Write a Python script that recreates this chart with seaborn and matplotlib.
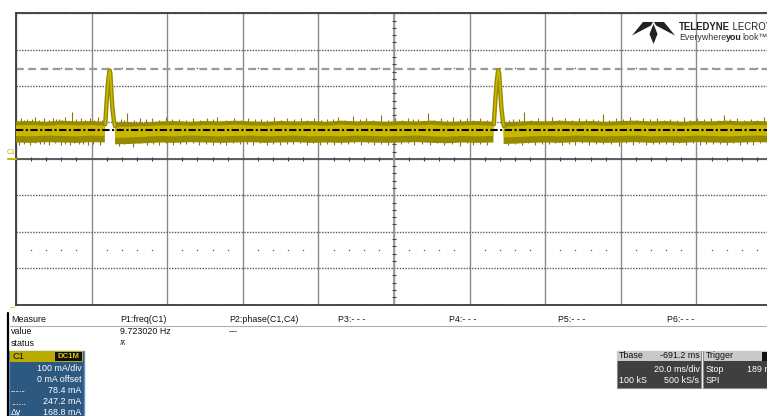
import numpy as np
import pandas as pd
import seaborn as sns
import matplotlib
matplotlib.use("Agg")
import matplotlib.pyplot as plt
from matplotlib.patches import Rectangle, Polygon

# ---------------- data (time in ms, current in mA) ----------------
nan = float("nan")
band_t = [0, 4, 8, 12, 16, 20, 23.5, 24.8, 26.2, 30, 34, 38, 42, 46, 50, 54, 58, 62, 66, 70,
          74, 78, 82, 86, 90, 94, 98, 102, 106, 110, 114, 118, 122, 126.3, 127.6, 129.0,
          132, 136, 140, 144, 148, 152, 156, 160, 164, 168, 172, 176, 180, 184, 188, 192, 196, 200]
outer_hi = [103, 104, 102, 105, 103, 104, 102, nan, 100, 101, 99, 103, 104, 102, 104, 103, 105, 103, 102, 104,
            103, 104, 102, 105, 103, 104, 102, 104, 103, 105, 102, 103, 104, 102, nan, 100,
            102, 104, 103, 105, 103, 104, 102, 104, 105, 103, 104, 102, 104, 103, 105, 103, 104, 103]
outer_lo = [45, 44, 46, 45, 44, 46, 45, nan, 40, 41, 43, 45, 44, 46, 45, 44, 45, 46, 44, 45,
            46, 44, 45, 44, 46, 45, 44, 45, 46, 44, 43, 45, 44, 45, nan, 41,
            42, 44, 45, 44, 46, 45, 44, 45, 46, 44, 45, 44, 46, 45, 44, 45, 46, 45]
core_hi = [92, 93, 91, 94, 92, 93, 91, nan, 88, 89, 90, 92, 93, 91, 93, 92, 94, 92, 91, 93,
           92, 93, 91, 94, 92, 93, 91, 93, 92, 94, 91, 92, 93, 91, nan, 88,
           90, 93, 92, 94, 92, 93, 91, 93, 94, 92, 93, 91, 93, 92, 94, 92, 93, 92]
core_lo = [63, 62, 64, 63, 62, 64, 63, nan, 58, 59, 61, 63, 62, 64, 63, 62, 63, 64, 62, 63,
           64, 62, 63, 62, 64, 63, 62, 63, 64, 62, 61, 63, 62, 63, nan, 59,
           60, 62, 63, 62, 64, 63, 62, 63, 64, 62, 63, 62, 64, 63, 62, 63, 64, 63]

up_t = [1.2, 2.9, 5.1, 7.4, 9.8, 11.3, 13.0, 14.8, 17.2, 19.5, 21.6, 27.9, 29.4, 32.8, 36.1,
        39.7, 43.2, 46.9, 50.5, 53.3, 57.8, 61.4, 64.9, 68.2, 71.7, 75.3, 78.8, 82.4, 85.1,
        89.2, 92.6, 96.5, 100.3, 103.8, 106.4, 108.9, 112.5, 115.7, 119.2, 122.8, 131.5,
        134.4, 138.2, 141.9, 145.3, 149.0, 152.6, 155.3, 158.8, 162.4, 166.0, 169.5, 173.1,
        176.6, 180.2, 183.9, 187.3, 190.8, 194.4, 197.9]
up_top = [112, 110, 114, 111, 113, 110, 115, 130, 112, 111, 114, 110, 126, 112, 111,
          114, 110, 113, 112, 115, 111, 113, 110, 114, 112, 111, 113, 110, 114,
          117, 112, 121, 111, 113, 110, 126, 112, 114, 111, 113, 110,
          130, 112, 114, 111, 113, 110, 123, 112, 114, 111, 113, 110,
          114, 112, 111, 121, 113, 110, 114]
up2_t = [2.0, 4.2, 6.2, 8.6, 10.5, 12.1, 15.9, 18.3, 20.6, 22.7, 28.6, 31.1, 34.4, 37.9, 41.4,
         45.0, 48.7, 52.0, 55.5, 59.6, 63.2, 66.5, 70.0, 73.5, 77.1, 80.6, 83.8, 87.1, 90.9,
         94.5, 98.4, 102.1, 105.1, 110.7, 114.1, 117.4, 121.0, 124.5, 130.4, 133.0, 136.3,
         140.0, 143.6, 147.1, 150.8, 154.0, 157.0, 160.6, 164.2, 167.8, 171.3, 174.9, 178.4,
         182.0, 185.6, 189.0, 192.6, 196.1, 199.2]
up2_top = [107, 109, 106, 108, 110, 107, 109, 106, 108, 107, 106, 108, 109, 107, 110,
           106, 108, 109, 107, 106, 110, 108, 107, 109, 106, 108, 110, 107, 109,
           106, 108, 107, 110, 108, 106, 109, 107, 108, 106, 109, 107,
           110, 108, 106, 109, 107, 108, 110, 106, 109, 107, 108, 106,
           109, 107, 110, 108, 106, 109]
dn_t = [0.8, 3.6, 6.3, 8.7, 11.9, 14.2, 16.6, 19.0, 22.1, 27.2, 31.0, 34.6, 37.9, 41.5, 45.0,
        48.4, 52.1, 55.6, 59.2, 62.7, 66.3, 69.9, 73.4, 77.0, 80.5, 84.1, 87.7, 91.2, 94.8,
        98.3, 101.9, 105.4, 109.6, 113.1, 117.5, 121.0, 124.6, 130.2, 133.8, 137.3, 140.9,
        144.4, 148.0, 151.6, 155.2, 159.5, 163.1, 166.6, 170.2, 173.7, 177.3, 180.9, 184.4,
        188.0, 191.5, 195.1, 198.6]
dn_bot = [39, 37, 40, 38, 39, 37, 40, 38, 39, 36, 33, 38, 39, 37, 40,
          38, 39, 37, 40, 38, 39, 37, 40, 38, 39, 37, 40, 38, 39,
          37, 40, 38, 39, 37, 36, 39, 38, 37, 39, 38, 40,
          37, 39, 38, 40, 35, 39, 37, 40, 38, 39, 37, 40,
          38, 39, 37, 40]
dn2_t = [2.2, 5.0, 7.5, 10.3, 13.0, 15.4, 17.8, 20.5, 28.5, 32.8, 36.2, 39.7, 43.3, 46.7,
         50.2, 53.9, 57.4, 61.0, 64.5, 68.1, 71.6, 75.2, 78.7, 82.3, 85.9, 89.4, 93.0, 96.5,
         100.1, 103.6, 107.5, 111.3, 115.3, 119.2, 122.8, 131.9, 135.5, 139.1, 142.6, 146.2,
         149.8, 153.4, 157.3, 161.3, 164.8, 168.4, 171.9, 175.5, 179.1, 182.6, 186.2, 189.7,
         193.3, 196.8, 199.6]
dn2_bot = [42, 43, 41, 44, 42, 43, 41, 42, 40, 43, 42, 44, 41, 43,
           42, 41, 44, 42, 43, 41, 42, 44, 43, 41, 42, 43, 44, 41,
           42, 43, 41, 44, 42, 43, 41, 42, 43, 41, 44, 42,
           43, 41, 42, 44, 43, 41, 42, 43, 44, 41, 42, 43,
           41, 44, 42]

pulse1_t = [23.6, 24.0, 24.4, 24.75, 24.95, 25.2, 25.5, 25.9, 26.2]
pulse2_t = [126.4, 126.8, 127.2, 127.55, 127.8, 128.1, 128.4, 128.8, 129.1]
pulse_ma = [95, 160, 215, 243, 236, 190, 140, 105, 90]

cursor1_ma = 78.4
cursor2_ma = 247.2

meas_headers = ["Measure", "P1:freq(C1)", "P2:phase(C1,C4)", "P3:- - -", "P4:- - -", "P5:- - -", "P6:- - -"]
meas_values = ["value", "9.723020 Hz", "---"]
c1_lines = ["100 mA/div", "0 mA offset", "78.4 mA", "247.2 mA", "168.8 mA"]

# ---------------- figure ----------------
W, H = 767, 416
sns.set_style("white")
plt.rcParams["font.family"] = ["Liberation Sans", "DejaVu Sans"]
fig = plt.figure(figsize=(W / 100, H / 100), dpi=100)
fig.patch.set_facecolor("white")

def fx(x):
    return x / W

def fy(y):
    return 1 - y / H

left_px, right_px, top_px, bot_px = 16, 772, 13.3, 304.5
ax = fig.add_axes([fx(left_px), fy(bot_px), (right_px - left_px) / W, (bot_px - top_px) / H])
ax.set_xlim(0, 200)
ax.set_ylim(-400, 400)
ax.set_facecolor("white")
for s in ax.spines.values():
    s.set_color("#3a3a3a")
    s.set_linewidth(1.3)
ax.set_xticks(np.arange(0, 201, 20))
ax.set_yticks(np.arange(-400, 401, 100))
ax.tick_params(length=0, labelbottom=False, labelleft=False)
ax.xaxis.grid(True, color="#8a8a8a", lw=1.0, ls="-")
ax.yaxis.grid(True, color="#5a5a5a", lw=1.0, ls=(0, (1, 1)))
ax.set_axisbelow(True)

# centre cross with minor ticks
ax.axhline(0, color="#555555", lw=1.3, zorder=1)
ax.axvline(100, color="#9a9a9a", lw=1.3, zorder=1)
minor_x = [v for v in np.arange(0, 201, 4) if v % 20 != 0]
ax.plot(minor_x, [0] * len(minor_x), ls="none", marker="|", ms=3.5, mew=0.8, color="#444444", zorder=1)
ax.plot(minor_x, [-250] * len(minor_x), ls="none", marker="s", ms=0.9, mew=0, color="#555555", zorder=1)
ax.plot(minor_x, [250] * len(minor_x), ls="none", marker="s", ms=0.9, mew=0, color="#555555", zorder=1)
minor_y = [v for v in np.arange(-400, 401, 20) if v % 100 != 0]
ax.plot([100] * len(minor_y), minor_y, ls="none", marker="_", ms=3.5, mew=0.8, color="#444444", zorder=1)

# cursor (dashed gray)
ax.axhline(cursor2_ma, color="#9a9a9a", lw=1.6, ls=(0, (3.5, 2)), zorder=2)

# trace band
olive_dark = "#857800"
olive = "#978900"
yellow = "#c9b800"
ax.vlines(up_t, [95] * len(up_t), up_top, color=olive_dark, lw=0.8, zorder=3)
ax.vlines(up2_t, [95] * len(up2_t), up2_top, color=olive_dark, lw=0.8, zorder=3)
ax.vlines(dn_t, dn_bot, [60] * len(dn_t), color=olive_dark, lw=0.8, zorder=3)
ax.vlines(dn2_t, dn2_bot, [60] * len(dn2_t), color=olive_dark, lw=0.8, zorder=3)
ax.fill_between(band_t, outer_lo, outer_hi, color=olive, lw=0, zorder=3)
ax.fill_between(band_t, core_lo, core_hi, color=yellow, lw=0, zorder=4)

pulses = pd.DataFrame({
    "t": pulse1_t + pulse2_t,
    "mA": pulse_ma + pulse_ma,
    "pulse": ["p1"] * len(pulse1_t) + ["p2"] * len(pulse2_t),
})
sns.lineplot(data=pulses, x="t", y="mA", units="pulse", estimator=None, color=olive,
             lw=3.2, sort=False, ax=ax, zorder=5, legend=False)
sns.lineplot(data=pulses, x="t", y="mA", units="pulse", estimator=None, color=yellow,
             lw=1.2, sort=False, ax=ax, zorder=6, legend=False)
ax.set_xlabel("")
ax.set_ylabel("")

# dash-dot cursor on top
ax.axhline(cursor1_ma, color="black", lw=1.5, ls=(0, (3.5, 1.2, 1, 1.2)), zorder=7)

# channel markers on the left
fig.text(fx(7), fy(152), "C1", color="#c8b400", fontsize=5, va="center", ha="left")
fig.add_artist(plt.Line2D([fx(8), fx(16)], [fy(159), fy(159)], color="#c8b400", lw=1.5))
fig.text(fx(9), fy(308), "\u2190", color="#c8b400", fontsize=5.5, va="center", ha="left")

# ---------------- logo ----------------
logo = "#222222"
for poly in ([(632, 35.5), (643, 22), (653, 22), (651, 25.5)],
             [(675, 35.5), (664, 22), (654, 22), (656, 25.5)],
             [(653.5, 24), (657.5, 34), (653.5, 44), (649.5, 34)]):
    fig.add_artist(Polygon([(fx(x), fy(y)) for x, y in poly], closed=True,
                           transform=fig.transFigure, color=logo, lw=0))

renderer = fig.canvas.get_renderer()

def run_text(x_px, y_px, parts, **kw):
    x = x_px
    for txt, weight, col in parts:
        t = fig.text(fx(x), fy(y_px), txt, fontweight=weight, color=col, va="center", ha="left", **kw)
        x += t.get_window_extent(renderer).width

run_text(679, 27.5, [("TELEDYNE", "bold", logo), (" LECROY", "normal", logo)],
         fontsize=6.9, family=["Liberation Sans Narrow", "Liberation Sans", "DejaVu Sans"])
run_text(679, 37.5, [("Everywhere", "normal", "#333333"), ("you", "bold", "#222222"), ("look\u2122", "normal", "#333333")],
         fontsize=6.4, family=["Liberation Sans Narrow", "Liberation Sans", "DejaVu Sans"])

# ---------------- measurement table ----------------
fs = 6.4
fig.add_artist(plt.Line2D([fx(8), fx(8)], [fy(313), fy(416)], color="black", lw=1.6))
fig.add_artist(plt.Line2D([fx(10), fx(767)], [fy(325.5), fy(325.5)], color="#b0b0b0", lw=0.8))
col_x = [11, 120, 229, 338, 449, 558, 667]
for x, txt in zip(col_x, meas_headers):
    fig.text(fx(x), fy(319.5), txt, fontsize=fs, va="center", ha="left", color="#111111")
for x, txt in zip(col_x, meas_values):
    fig.text(fx(x), fy(331.5), txt, fontsize=fs, va="center", ha="left", color="#111111")
fig.text(fx(11), fy(343), "status", fontsize=fs, va="center", ha="left", color="#111111")
fig.text(fx(120), fy(343), "\u046a", fontsize=5, va="center", ha="left", color="#333333", family=["DejaVu Sans"])

def rect(x0, y0, x1, y1, fc, ec="none", lw=0):
    fig.add_artist(Rectangle((fx(x0), fy(y1)), (x1 - x0) / W, (y1 - y0) / H, transform=fig.transFigure,
                             facecolor=fc, edgecolor=ec, lw=lw))

# C1 box
rect(9, 350.5, 83.5, 420, "#2d5880", ec="#5d93c9", lw=1.0)
rect(9.5, 351, 83, 361.5, "#b9ab00")
rect(55, 352, 81.5, 360.5, "#111111")
fig.text(fx(12), fy(356.3), "C1", fontsize=fs + 0.3, va="center", ha="left", color="#111111")
fig.text(fx(68.2), fy(356.3), "DC1M", fontsize=5.6, va="center", ha="center", color="#d9c800", fontweight="bold")
for i, txt in enumerate(c1_lines):
    fig.text(fx(81.5), fy(368.5 + i * 11.0), txt, fontsize=fs, va="center", ha="right", color="white")
fig.text(fx(11), fy(391.5), "-\u00b7-\u00b7-", fontsize=fs, va="center", ha="left", color="white")
fig.text(fx(11), fy(402.5), "......", fontsize=fs, va="center", ha="left", color="white")
fig.text(fx(11), fy(412.5), "\u0394y", fontsize=fs, va="center", ha="left", color="white")

# Tbase box
rect(616.5, 350.5, 701, 387.5, "#3f3f3f", ec="#8a8a8a", lw=0.8)
rect(617, 351, 700.5, 361, "#c9c9c9")
fig.text(fx(619), fy(356), "Tbase", fontsize=fs, va="center", ha="left", color="#111111")
fig.text(fx(699.5), fy(356), "-691.2 ms", fontsize=fs, va="center", ha="right", color="#111111")
fig.text(fx(699.5), fy(369.5), "20.0 ms/div", fontsize=fs, va="center", ha="right", color="white")
fig.text(fx(619), fy(380.5), "100 kS", fontsize=fs, va="center", ha="left", color="white")
fig.text(fx(699.5), fy(380.5), "500 kS/s", fontsize=fs, va="center", ha="right", color="white")

# Trigger box
rect(703, 350.5, 790, 387.5, "#3f3f3f", ec="#8a8a8a", lw=0.8)
rect(703.5, 351, 790, 361, "#c9c9c9")
rect(762, 352, 770, 360.5, "#111111")
fig.text(fx(705.5), fy(356), "Trigger", fontsize=fs, va="center", ha="left", color="#111111")
fig.text(fx(705.5), fy(369.5), "Stop", fontsize=fs, va="center", ha="left", color="white")
fig.text(fx(747), fy(369.5), "189 ms", fontsize=fs, va="center", ha="left", color="white")
fig.text(fx(705.5), fy(380.5), "SPI", fontsize=fs, va="center", ha="left", color="white")

fig.savefig("out.png", dpi=100)
